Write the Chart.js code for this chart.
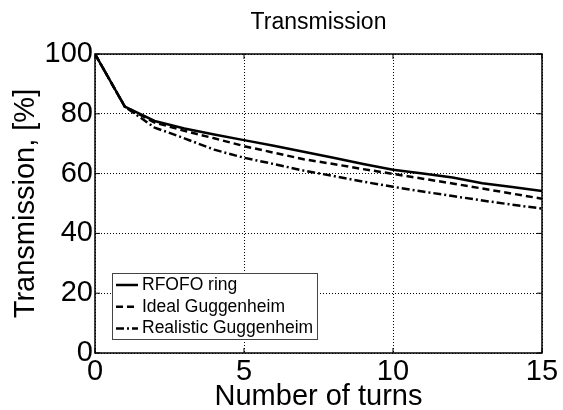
<!DOCTYPE html>
<html>
<head>
<meta charset="utf-8">
<script src="https://cdn.jsdelivr.net/npm/chart.js@4"></script>
<style>
  body { margin: 0; background: #fff; }
  #wrap { width: 563px; height: 410px; }
</style>
</head>
<body>
<div id="wrap"><canvas id="chart" width="563" height="410"></canvas></div>
<script>
// Data
const turns = [0, 1, 2, 3, 4, 5, 6, 7, 8, 9, 10, 11, 12, 13, 14, 15];
const rfofoRing = [100, 82.4, 77.6, 75.1, 73.1, 71.2, 69.3, 67.3, 65.3, 63.2, 61.3, 60.0, 58.7, 56.8, 55.5, 54.2];
const idealGuggenheim = [100, 82.4, 77.1, 74.3, 71.8, 69.2, 67.0, 64.8, 63.2, 61.5, 59.9, 58.3, 56.7, 55.0, 53.3, 51.6];
const realisticGuggenheim = [100, 82.4, 75.4, 71.8, 68.0, 65.3, 63.2, 61.0, 59.2, 57.3, 55.6, 54.0, 52.5, 51.0, 49.6, 48.3];
const seriesNames = ['RFOFO ring', 'Ideal Guggenheim', 'Realistic Guggenheim'];
const xTicks = [0, 5, 10, 15];
const yTicks = [0, 20, 40, 60, 80, 100];

Chart.defaults.font.family = '"Liberation Sans", Arial, sans-serif';
Chart.defaults.color = '#000';

const toPoints = ys => turns.map((t, i) => ({x: t, y: ys[i]}));
const dashes = [[], [7, 4], [8, 3, 2, 3]];

// frame with inward ticks, like the original plot box
const frameBox = {
  id: 'frameBox',
  afterDraw(chart) {
    const ctx = chart.ctx, a = chart.chartArea;
    const xs = chart.scales.x, ys = chart.scales.y;
    ctx.save();
    ctx.strokeStyle = '#000';
    ctx.lineWidth = 1.5;
    ctx.setLineDash([]);
    ctx.strokeRect(a.left, a.top, a.right - a.left, a.bottom - a.top);
    ctx.lineWidth = 1;
    ctx.beginPath();
    xTicks.forEach(v => {
      const px = xs.getPixelForValue(v);
      ctx.moveTo(px, a.bottom); ctx.lineTo(px, a.bottom - 5);
      ctx.moveTo(px, a.top); ctx.lineTo(px, a.top + 5);
    });
    yTicks.forEach(v => {
      const py = ys.getPixelForValue(v);
      ctx.moveTo(a.left, py); ctx.lineTo(a.left + 5, py);
      ctx.moveTo(a.right, py); ctx.lineTo(a.right - 5, py);
    });
    ctx.stroke();
    ctx.restore();
  }
};

// legend box inside the plot, lower left
const legendBox = {
  id: 'legendBox',
  afterDraw(chart) {
    const ctx = chart.ctx, a = chart.chartArea;
    const bx = a.left + 17, by = a.bottom - 80, bw = 205, bh = 66;
    ctx.save();
    ctx.fillStyle = '#fff';
    ctx.fillRect(bx, by, bw, bh);
    ctx.strokeStyle = '#444';
    ctx.lineWidth = 1;
    ctx.strokeRect(bx + 0.5, by + 0.5, bw, bh);
    ctx.font = '17.5px "Liberation Sans", Arial, sans-serif';
    ctx.textBaseline = 'middle';
    ctx.fillStyle = '#000';
    chart.data.datasets.forEach((ds, i) => {
      const y = by + 12 + i * 21.7;
      ctx.strokeStyle = '#000';
      ctx.lineWidth = 2.5;
      ctx.setLineDash(ds.borderDash || []);
      ctx.beginPath();
      ctx.moveTo(bx + 4, y);
      ctx.lineTo(bx + 26, y);
      ctx.stroke();
      ctx.fillText(ds.label, bx + 30, y);
    });
    ctx.restore();
  }
};

new Chart(document.getElementById('chart'), {
  type: 'line',
  data: {
    datasets: [rfofoRing, idealGuggenheim, realisticGuggenheim].map((ys, i) => ({
      label: seriesNames[i],
      data: toPoints(ys),
      borderColor: '#000',
      borderWidth: 2.5,
      borderDash: dashes[i],
      pointRadius: 0,
      tension: 0,
      fill: false
    }))
  },
  options: {
    responsive: false,
    animation: false,
    layout: { padding: { right: 21 } },
    plugins: {
      legend: { display: false },
      tooltip: { enabled: false },
      title: {
        display: true,
        text: 'Transmission',
        fullSize: false,
        color: '#000',
        font: { size: 23, weight: 'normal', lineHeight: 1.2 },
        padding: { top: 9, bottom: 17.4 }
      }
    },
    scales: {
      x: {
        type: 'linear',
        min: 0, max: 15,
        afterBuildTicks: s => { s.ticks = xTicks.map(v => ({value: v})); },
        afterFit: s => { s.height = 57; },
        ticks: { font: { size: 29 }, padding: 2, maxRotation: 0 },
        grid: { color: '#000', lineWidth: 1, drawTicks: false },
        border: { display: false, dash: [1, 2] },
        title: {
          display: true,
          text: 'Number of turns',
          font: { size: 29, lineHeight: 0.9 },
          padding: { top: 0, bottom: 0 }
        }
      },
      y: {
        min: 0, max: 100,
        afterBuildTicks: s => { s.ticks = yTicks.map(v => ({value: v})); },
        afterFit: s => { s.width = 95; },
        ticks: { font: { size: 29 }, padding: 2 },
        grid: { color: '#000', lineWidth: 1, drawTicks: false },
        border: { display: false, dash: [1, 2] },
        title: {
          display: true,
          text: 'Transmission, [%]',
          font: { size: 29, lineHeight: 1 },
          padding: { top: 11.5, bottom: 0 }
        }
      }
    }
  },
  plugins: [frameBox, legendBox]
});
</script>
</body>
</html>
